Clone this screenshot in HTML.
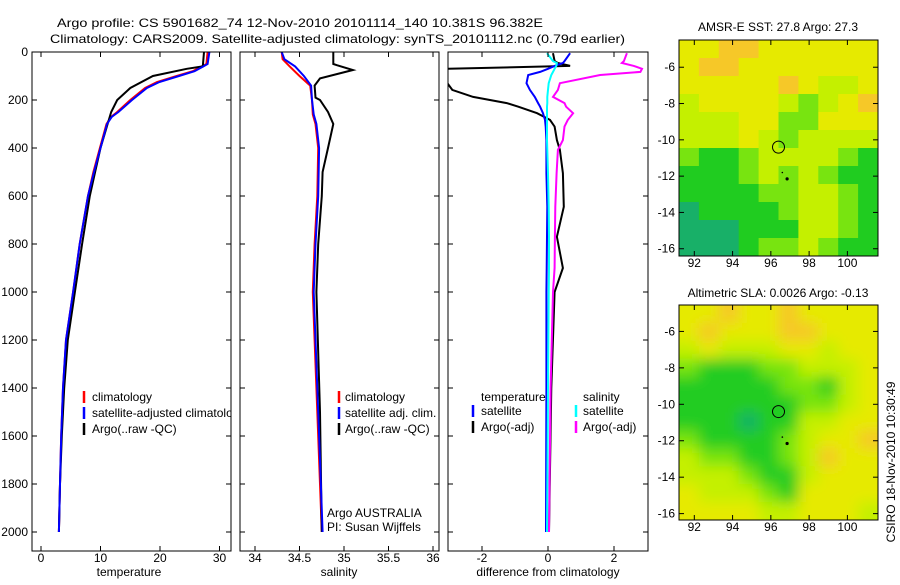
<!DOCTYPE html>
<html><head><meta charset="utf-8">
<style>
body{margin:0;background:#fff;}
svg text{font-family:"Liberation Sans",sans-serif;font-size:12px;fill:#000;}
</style></head>
<body>
<svg id="fig" width="900" height="580" viewBox="0 0 900 580" xmlns="http://www.w3.org/2000/svg">
<defs>
<clipPath id="c1"><rect x="32" y="52" width="199" height="499"/></clipPath>
<clipPath id="c2"><rect x="240" y="52" width="199" height="499"/></clipPath>
<clipPath id="c3"><rect x="448" y="52" width="200" height="499"/></clipPath>
<clipPath id="cm1"><rect x="679" y="40" width="199" height="216"/></clipPath>
<clipPath id="cm2"><rect x="679" y="305" width="199" height="215"/></clipPath>
<filter id="blur" x="-20%" y="-20%" width="140%" height="140%"><feGaussianBlur stdDeviation="7"/></filter>
</defs>
<text x="57" y="27" font-size="15" textLength="486" lengthAdjust="spacingAndGlyphs">Argo profile: CS 5901682_74 12-Nov-2010 20101114_140 10.381S 96.382E</text>
<text x="50" y="43" font-size="15" textLength="575" lengthAdjust="spacingAndGlyphs">Climatology: CARS2009. Satellite-adjusted climatology: synTS_20101112.nc (0.79d earlier)</text>
<text x="778" y="31" text-anchor="middle">AMSR-E SST: 27.8 Argo: 27.3</text>
<text x="778" y="297" text-anchor="middle">Altimetric SLA: 0.0026 Argo: -0.13</text>
<text transform="translate(895,462) rotate(-90)" text-anchor="middle">CSIRO 18-Nov-2010 10:30:49</text>
<g id="g"></g>
</svg>
<script>
// ---- data ----
const depthsClim = [0,50,60,80,100,125,150,200,250,270,300,400,500,600,800,1000,1200,1400,1600,1800,2000];
const tempClim = [28,27.8,27,25.5,22.8,19.5,17.5,15,12.8,11.8,11,9.9,8.8,7.9,6.5,5.4,4.2,3.7,3.4,3.2,3.0];
const tempSat  = [28.3,28.0,27.3,25.8,23.2,19.9,17.8,15.3,13,11.9,11.1,10,8.9,7.9,6.5,5.4,4.2,3.7,3.4,3.2,3.0];
const depthsArgo = [0,60,70,100,150,200,250,300,400,500,600,800,1000,1200,1400,1600,1800,2000];
const tempArgo = [27.4,27.2,24.5,18.8,15,12.8,11.8,11.2,10,9.1,8.2,6.9,5.7,4.5,3.9,3.5,3.2,3.0];
const depthsSal = [0,30,60,100,140,200,260,300,400,600,800,1000,1200,1600,2000];
const salClim = [34.30,34.31,34.39,34.50,34.62,34.64,34.65,34.68,34.71,34.70,34.67,34.65,34.67,34.71,34.75];
const salSat  = [34.30,34.33,34.45,34.55,34.63,34.64,34.66,34.69,34.72,34.71,34.68,34.66,34.68,34.72,34.76];
const depthsSalArgo = [0,50,55,75,110,140,190,200,250,300,400,500,600,800,1000,1500,2000];
const salArgo = [34.88,34.88,34.92,35.1,34.73,34.67,34.68,34.73,34.82,34.88,34.82,34.76,34.75,34.71,34.69,34.73,34.75];
const depthsDiff = [5,38,46,58,70,83,96,130,158,187,213,228,255,283,311,367,408,505,645,770,900,1000,1400,2000];
const dTempSat  = [0.67,0.5,0.45,0.2,0,-0.24,-0.6,-0.65,-0.55,-0.4,-0.3,-0.24,-0.15,-0.09,-0.07,-0.05,-0.05,-0.05,-0.02,-0.03,-0.04,-0.05,-0.05,-0.06];
const dTempArgo = [0.15,0.2,0.3,0.67,-3.05,-3.05,-3.05,-3.05,-2.9,-2.27,-1.25,-0.9,-0.33,0.06,0.2,0.27,0.36,0.45,0.48,0.27,0.45,0.2,0.1,0.03];
const dSalSat   = [-0.03,0.15,0.27,0.25,0.2,0.15,0.1,0.02,0,-0.02,-0.02,-0.03,-0.03,-0.03,-0.03,-0.03,-0.02,0.0,0.02,0.03,0.03,0.02,0.0,-0.03];
const dSalArgo  = [2.39,2.3,2.24,2.6,2.85,2.8,1.58,0.36,0.3,0.15,0.5,0.55,0.76,0.6,0.5,0.45,0.3,0.26,0.22,0.21,0.2,0.15,0.08,0.03];
const tempTicks = [0,10,20,30];
const salTicks = [34,34.5,35,35.5,36];
const diffTicks = [-2,0,2];
const depthTicks = [0,200,400,600,800,1000,1200,1400,1600,1800,2000];
const lonTicks = [92,94,96,98,100];
const latTicks = [-6,-8,-10,-12,-14,-16];
const sstGrid = [
[4,4,5,5,4,4,4,4,4,4],
[4,5,5,4,4,4,4,4,4,4],
[4,4,4,4,4,5,4,3,3,4],
[3,4,4,4,4,3,2,3,4,5],
[3,3,3,4,4,2,2,4,4,4],
[3,3,3,4,3,2,3,3,3,3],
[2,1,1,2,3,3,3,3,2,1],
[1,1,1,2,3,2,3,2,1,1],
[1,1,1,1,2,2,3,3,2,1],
[0,1,1,1,1,2,3,3,2,1],
[0,0,0,1,1,1,3,3,2,1],
[0,0,0,1,2,2,3,2,1,1]];
const slaGrid = [
[4,4,5,4,4,5,4,4,4,4],
[4,5,4,4,4,5,5,4,4,4],
[3,4,3,3,3,4,4,3,4,4],
[2,1,1,1,2,2,3,3,3,4],
[1,1,1,1,1,2,2,1,3,4],
[1,1,1,1,1,1,2,2,3,4],
[1,1,1,0,1,1,3,3,4,4],
[2,1,1,1,1,2,3,4,4,5],
[3,2,2,1,1,2,3,5,4,4],
[3,3,3,2,1,1,3,4,4,4],
[4,3,3,3,2,1,4,4,4,4],
[4,4,4,4,3,3,4,4,4,3]];
const palette = ["#18b068","#20cc20","#78e410","#c4f000","#e6ea00","#f6c828"];
const argoPos = [96.4,-10.4];

// ---- helpers ----
const NS="http://www.w3.org/2000/svg";
const G=document.getElementById('g');
function mk(tag,attrs,parent){const e=document.createElementNS(NS,tag);for(const k in attrs)e.setAttribute(k,attrs[k]);(parent||G).appendChild(e);return e;}
const yD = d => 52 + d*0.24;
const xT = v => 41 + v*5.95;
const xS = v => 255 + (v-34)*89;
const xF = v => 548 + v*33;

function line(xs,ds,xf,color,clip,name,w){
  const pts = xs.map((v,i)=>xf(v).toFixed(1)+","+yD(ds[i]).toFixed(1)).join(" ");
  const p=mk('polyline',{points:pts,fill:"none",stroke:color,"stroke-width":w||2,"clip-path":"url(#"+clip+")"});
  
  
}
function frame(x,y,w,h,name){
  const r=mk('rect',{x:x,y:y,width:w,height:h,fill:"none",stroke:"#000","stroke-width":1});
  
  
}
function xticks(ticks,xf,top,bot,labels){
  ticks.forEach(t=>{const x=xf(t);
    mk('line',{x1:x,y1:bot,x2:x,y2:bot-5,stroke:"#000"});
    mk('line',{x1:x,y1:top,x2:x,y2:top+5,stroke:"#000"});
    if(labels){const tx=mk('text',{x:x,y:bot+11,"text-anchor":"middle"});tx.textContent=t;
      
      }
  });
}
function yticks(ticks,yf,left,right,labels){
  ticks.forEach(t=>{const y=yf(t);
    mk('line',{x1:left,y1:y,x2:left+5,y2:y,stroke:"#000"});
    mk('line',{x1:right,y1:y,x2:right-5,y2:y,stroke:"#000"});
    if(labels){const tx=mk('text',{x:left-4,y:y+4,"text-anchor":"end"});tx.textContent=t;
      
      }
  });
}
function txt(x,y,s,name,anchor){const t=mk('text',{x:x,y:y,"text-anchor":anchor||"start"});t.textContent=s;
  
  return t;}
function mark(x,y,color){mk('line',{x1:x,y1:y-6,x2:x,y2:y+6,stroke:color,"stroke-width":2.5});}

// ---- panel 1: temperature ----
line(tempClim,depthsClim,xT,"#f00","c1","temperature-climatology-line");
line(tempArgo,depthsArgo,xT,"#000","c1","temperature-argo-line");
line(tempSat,depthsClim,xT,"#00f","c1","temperature-satellite-line");
frame(32,52,199,499,"temperature-panel");
xticks(tempTicks,xT,52,551,true);
yticks(depthTicks,yD,32,231,true);
txt(129,576,"temperature","temperature-axis-title","middle");
const lg1=mk('g',{"clip-path":"url(#c1)"});
[["#f00","climatology",397],["#00f","satellite-adjusted climatology",413],["#000","Argo(..raw -QC)",429]].forEach(a=>{
  mk('line',{x1:84,y1:a[2]-6,x2:84,y2:a[2]+6,stroke:a[0],"stroke-width":2.5},lg1);
  const t=mk('text',{x:92,y:a[2]+4},lg1);t.textContent=a[1];
  
  
});

// ---- panel 2: salinity ----
line(salClim,depthsSal,xS,"#f00","c2","salinity-climatology-line");
line(salArgo,depthsSalArgo,xS,"#000","c2","salinity-argo-line");
line(salSat,depthsSal,xS,"#00f","c2","salinity-satellite-line");
frame(240,52,199,499,"salinity-panel");
xticks(salTicks,xS,52,551,true);
yticks(depthTicks,yD,240,439,false);
txt(339,576,"salinity","salinity-axis-title","middle");
[["#f00","climatology",397],["#00f","satellite adj. clim.",413],["#000","Argo(..raw -QC)",429]].forEach(a=>{
  mark(339,a[2],a[0]);txt(345,a[2]+4,a[1],"salinity-legend-entry");});
txt(327,517,"Argo AUSTRALIA","institution-label");
txt(327,531,"PI: Susan Wijffels","pi-label");

// ---- panel 3: difference ----
line(dTempArgo,depthsDiff,xF,"#000","c3","diff-temperature-argo-line");
line(dTempSat,depthsDiff,xF,"#00f","c3","diff-temperature-satellite-line");
line(dSalArgo,depthsDiff,xF,"#f0f","c3","diff-salinity-argo-line");
line(dSalSat,depthsDiff,xF,"#0ff","c3","diff-salinity-satellite-line");
frame(448,52,200,499,"difference-panel");
xticks(diffTicks,xF,52,551,true);
yticks(depthTicks,yD,448,648,false);
txt(548,576,"difference from climatology","difference-axis-title","middle");
txt(481,401,"temperature","legend-temperature-header");
txt(583,401,"salinity","legend-salinity-header");
mark(473,411,"#00f");txt(481,415,"satellite","legend-temp-satellite");
mark(473,427,"#000");txt(481,431,"Argo(-adj)","legend-temp-argo");
mark(576,411,"#0ff");txt(583,415,"satellite","legend-sal-satellite");
mark(576,427,"#f0f");txt(583,431,"Argo(-adj)","legend-sal-argo");

// ---- maps ----
function drawMap(grid,x0,y0,w,h,clip,latTop,latBot,name,blur){
  const lonL=91.2,lonR=101.6;
  const xL=v=>x0+(v-lonL)*w/(lonR-lonL);
  const yL=v=>y0+(latTop-v)*h/(latTop-latBot);
  const gc=mk('g',{"clip-path":"url(#"+clip+")"});
  const gi=mk('g',blur?{filter:"url(#blur)"}:{},gc);
  const rows=grid.length, cols=grid[0].length;
  const cw=w/cols, ch=h/rows, pad=blur?25:0;
  grid.forEach((row,r)=>row.forEach((v,c)=>{
    const x=x0+c*cw-(c===0?pad:0), y=y0+r*ch-(r===0?pad:0);
    const ww=cw+0.6+(c===0?pad:0)+(c===cols-1?pad:0);
    const hh=ch+0.6+(r===0?pad:0)+(r===rows-1?pad:0);
    const rc=mk('rect',{x:x,y:y,width:ww,height:hh,fill:palette[v]},gi);
    
    
  }));
  const c=mk('circle',{cx:xL(argoPos[0]),cy:yL(argoPos[1]),r:6,fill:"none",stroke:"#000","stroke-width":1});
  
  
  mk('circle',{cx:xL(96.85),cy:yL(-12.15),r:1.6,fill:"#000"});
  mk('circle',{cx:xL(96.6),cy:yL(-11.8),r:0.8,fill:"#000"});
  frame(x0,y0,w,h,name);
  xticks(lonTicks,xL,y0,y0+h,true);
  yticks(latTicks,yL,x0,x0+w,true);
}
drawMap(sstGrid,679,40,199,216,"cm1",-4.5,-16.4,"sst-map",false);
drawMap(slaGrid,679,305,199,215,"cm2",-4.55,-16.35,"sla-map",true);
</script>
</body></html>
